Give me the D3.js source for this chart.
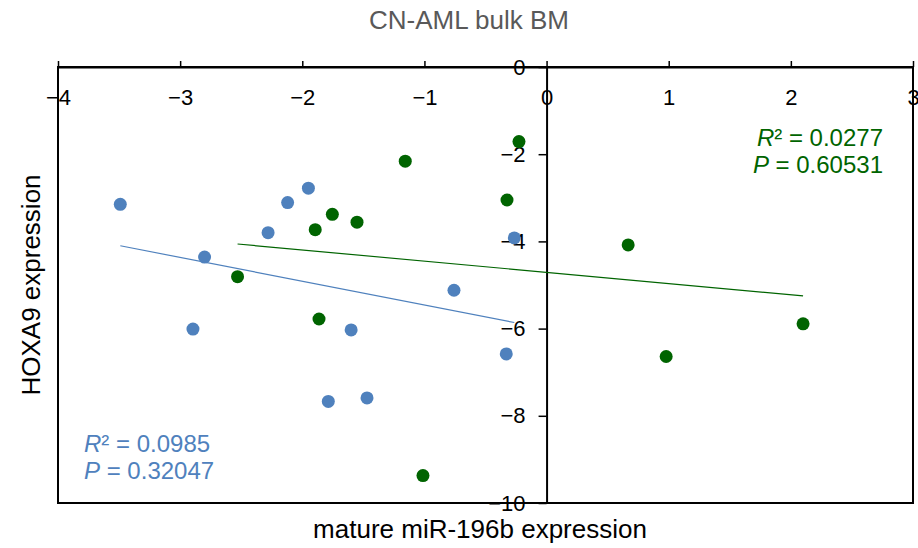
<!DOCTYPE html>
<html>
<head>
<meta charset="utf-8">
<script src="https://cdn.jsdelivr.net/npm/d3@7"></script>
<style>
  body { margin: 0; background: #fff; }
  svg { display: block; font-family: "Liberation Sans", Arial, sans-serif; }
</style>
</head>
<body>
<div id="chart"></div>
<script>
// values
const xTicks = [-4, -3, -2, -1, 0, 1, 2, 3];
const yTicks = [0, -2, -4, -6, -8, -10];

const blueX = [-3.49, -2.80, -2.895, -2.28, -2.12, -1.95, -1.60, -1.787, -1.47, -0.758, -0.33, -0.264];
const blueY = [-3.15, -4.36, -6.01, -3.80, -3.11, -2.78, -6.03, -7.67, -7.59, -5.12, -6.58, -3.92];

const greenX = [-2.53, -1.894, -1.754, -1.552, -1.863, -0.324, -1.157, -0.226, -1.012, 0.668, 0.979, 2.10];
const greenY = [-4.81, -3.73, -3.38, -3.56, -5.78, -3.05, -2.16, -1.71, -9.37, -4.08, -6.64, -5.89];

// trend line end points
const blueFitX = [-3.49, -0.264];
const blueFitY = [-4.10, -5.86];
const greenFitX = [-2.53, 2.10];
const greenFitY = [-4.06, -5.25];

const blueStats = ['0.0985', '0.32047'];
const greenStats = ['0.0277', '0.60531'];

const W = 918, H = 548;
const BLUE = '#4f81bd', GREEN = '#006400';

const svg = d3.select('#chart').append('svg')
    .attr('width', W)
    .attr('height', H);

const x = d3.scaleLinear().domain([-4, 3]).range([58, 913]);
const y = d3.scaleLinear().domain([-10, 0]).range([503, 67]);

// frame
svg.append('rect')
    .attr('x', x(-4)).attr('y', y(0))
    .attr('width', x(3) - x(-4)).attr('height', y(-10) - y(0))
    .attr('fill', 'none')
    .attr('stroke', '#000')
    .attr('stroke-width', 2);

// x axis along y = 0, ticks up, labels under the line
const xAxis = svg.append('g')
    .attr('transform', `translate(0,${y(0)})`)
    .call(d3.axisBottom(x).tickValues(xTicks).tickFormat(d3.format('d'))
        .tickSize(-6).tickSizeOuter(0).tickPadding(22));

// y axis along x = 0
const yAxis = svg.append('g')
    .attr('transform', `translate(${x(0)},0)`)
    .call(d3.axisLeft(y).tickValues(yTicks).tickFormat(d3.format('d'))
        .tickSize(8).tickSizeOuter(0).tickPadding(13));

[xAxis, yAxis].forEach(g => {
    g.select('.domain').attr('stroke', '#000').attr('stroke-width', 2);
    g.selectAll('.tick line').attr('stroke', '#000').attr('stroke-width', 1.5);
    g.selectAll('.tick text')
        .attr('fill', '#000')
        .style('font-size', '22px')
        .style('font-family', '"Liberation Sans", Arial, sans-serif');
});

// trend lines
const line = d3.line().x(d => x(d[0])).y(d => y(d[1]));
svg.append('path')
    .datum(d3.zip(blueFitX, blueFitY))
    .attr('d', line)
    .attr('fill', 'none')
    .attr('stroke', BLUE)
    .attr('stroke-width', 1.2);
svg.append('path')
    .datum(d3.zip(greenFitX, greenFitY))
    .attr('d', line)
    .attr('fill', 'none')
    .attr('stroke', GREEN)
    .attr('stroke-width', 1.2);

// points
svg.append('g')
    .selectAll('circle')
    .data(d3.zip(blueX, blueY))
    .enter()
    .append('circle')
    .attr('cx', d => x(d[0]))
    .attr('cy', d => y(d[1]))
    .attr('r', 6.5)
    .attr('fill', BLUE);

svg.append('g')
    .selectAll('circle')
    .data(d3.zip(greenX, greenY))
    .enter()
    .append('circle')
    .attr('cx', d => x(d[0]))
    .attr('cy', d => y(d[1]))
    .attr('r', 6.5)
    .attr('fill', GREEN);

// stats text
function stats(tx, ty, anchor, color, vals) {
    const g = svg.append('g')
        .attr('fill', color)
        .style('font-size', '24px')
        .attr('text-anchor', anchor);
    const t1 = g.append('text').attr('x', tx).attr('y', ty);
    t1.append('tspan').style('font-style', 'italic').text('R');
    t1.append('tspan').text('² = ' + vals[0]);
    const t2 = g.append('text').attr('x', tx).attr('y', ty + 27);
    t2.append('tspan').style('font-style', 'italic').text('P');
    t2.append('tspan').text(' = ' + vals[1]);
}
stats(883, 146, 'end', GREEN, greenStats);
stats(84, 452, 'start', BLUE, blueStats);

// titles
svg.append('text')
    .attr('x', 469).attr('y', 29)
    .attr('text-anchor', 'middle')
    .attr('fill', '#595959')
    .style('font-size', '26px')
    .text('CN-AML bulk BM');

svg.append('text')
    .attr('x', 480).attr('y', 538)
    .attr('text-anchor', 'middle')
    .attr('fill', '#000')
    .style('font-size', '26px')
    .text('mature miR-196b expression');

svg.append('text')
    .attr('transform', 'translate(40,285) rotate(-90)')
    .attr('text-anchor', 'middle')
    .attr('fill', '#000')
    .style('font-size', '26px')
    .text('HOXA9 expression');
</script>
</body>
</html>
